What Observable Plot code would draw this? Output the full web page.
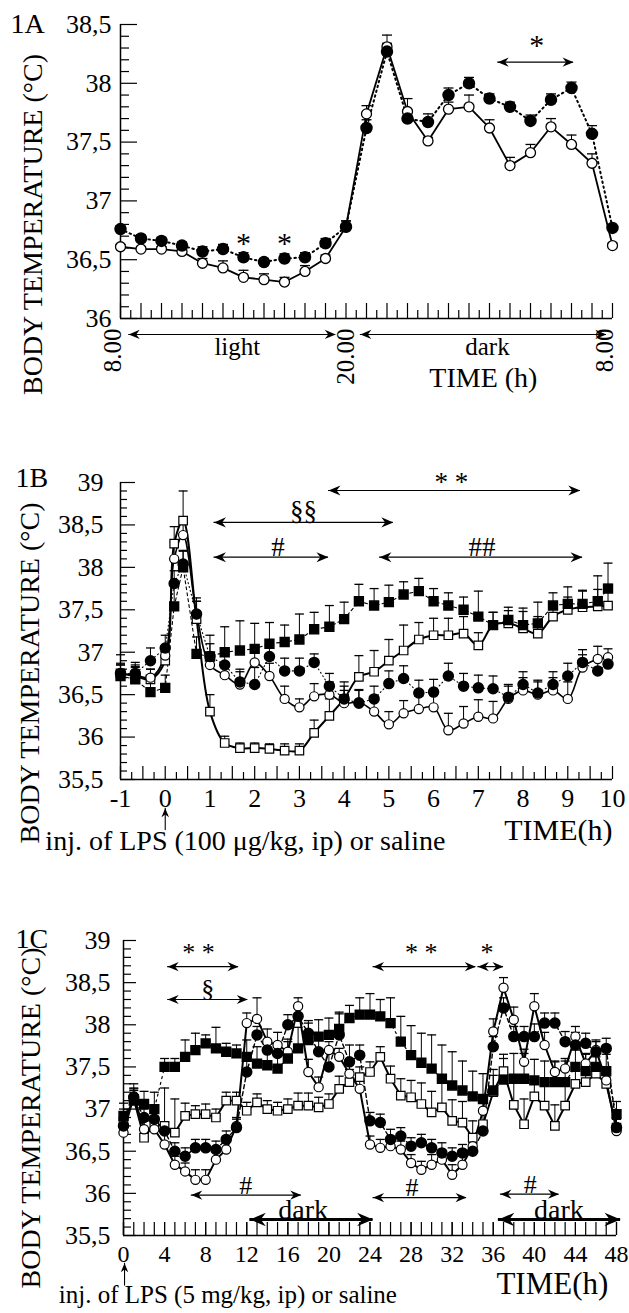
<!DOCTYPE html>
<html>
<head>
<meta charset="utf-8">
<script src="https://cdn.jsdelivr.net/npm/d3@7"></script>
<script src="https://cdn.jsdelivr.net/npm/@observablehq/plot@0.6"></script>
<style>
  html, body { margin: 0; padding: 0; background: #fff; }
  #page { position: relative; width: 629px; height: 1313px; overflow: hidden; background: #fff; }
  .panel { position: absolute; left: 0; width: 629px; }
</style>
</head>
<body>
<div id="page">
  <div class="panel" id="panelA" style="top:0px"></div>
  <div class="panel" id="panelB" style="top:440px"></div>
  <div class="panel" id="panelC" style="top:880px"></div>
</div>
<script>
// ================= DATA =================
// ---- Panel 1A (hour index from 8.00 to 8.00 next day)
const hoursA = [0,1,2,3,4,5,6,7,8,9,10,11,12,13,14,15,16,17,18,19,20,21,22,23,24];
const openA   = [36.61,36.59,36.59,36.57,36.47,36.43,36.35,36.33,36.31,36.40,36.51,36.78,37.74,38.31,37.76,37.51,37.78,37.80,37.62,37.30,37.41,37.63,37.48,37.32,36.62];
const openAErr= [0.02,0.02,0.02,0.02,0.04,0.06,0.06,0.05,0.04,0.05,0.03,0.05,0.07,0.10,0.11,0.03,0.06,0.10,0.07,0.07,0.07,0.07,0.08,0.08,0.02];
const filledA = [36.76,36.68,36.66,36.62,36.57,36.59,36.52,36.48,36.51,36.52,36.64,36.78,37.62,38.27,37.70,37.67,37.90,38.00,37.87,37.80,37.68,37.86,37.96,37.57,36.77];
const filledAErr=[0.03,0.03,0.03,0.03,0.04,0.04,0.04,0.03,0.04,0.04,0.04,0.05,0.07,0.07,0.07,0.07,0.06,0.05,0.04,0.04,0.05,0.05,0.05,0.07,0.02];
const yTicksA = [36, 36.5, 37, 37.5, 38, 38.5];
const timeLabelsA = [{x: 0, label: "8.00"}, {x: 11.4, label: "20.00"}, {x: 24, label: "8.00"}];
const phasesA = [{label: "light", x1: 0.4, x2: 10.5, tx: 5.7, y: 35.864}, {label: "dark", x1: 11.7, x2: 23.7, tx: 17.9, y: 35.864}];
const starsA = [{x: 6, y: 36.64, label: "*"}, {x: 8, y: 36.64, label: "*"}, {x: 20.3, y: 38.32, label: "*"}];
const sigArrowsA = [{x1: 18.4, x2: 22.1, y: 38.18}];

// ---- Panel 1B (hours relative to injection)
const tB = [-1,-0.67,-0.33,0,0.2,0.4,0.7,1,1.33,1.67,2,2.33,2.67,3,3.33,3.67,4,4.33,4.67,5,5.33,5.67,6,6.33,6.67,7,7.33,7.67,8,8.33,8.67,9,9.33,9.67,9.9];
const openSqB    = [36.75,36.72,36.68,36.9,38.28,38.55,37.39,36.3,35.93,35.87,35.87,35.86,35.84,35.84,36.05,36.25,36.45,36.71,36.77,36.9,37.02,37.15,37.2,37.2,37.22,37.08,37.32,37.34,37.28,37.22,37.42,37.5,37.53,37.54,37.55];
const openSqBErr = [0.12,0.1,0.12,0.1,0.2,0.35,0.25,0.2,0.08,0.06,0.06,0.06,0.08,0.08,0.15,0.2,0.2,0.25,0.25,0.25,0.3,0.2,0.2,0.2,0.2,0.15,0.15,0.15,0.2,0.2,0.15,0.15,0.2,0.2,0.25];
const filledSqB  = [36.72,36.68,36.53,36.58,37.54,38.0,36.98,36.95,37.0,37.02,37.04,37.1,37.12,37.15,37.27,37.3,37.39,37.6,37.55,37.59,37.68,37.72,37.6,37.55,37.5,37.42,37.32,37.38,37.32,37.34,37.55,37.57,37.57,37.6,37.75];
const filledSqBErr=[0.25,0.2,0.15,0.15,0.25,0.2,0.2,0.25,0.3,0.35,0.3,0.25,0.2,0.3,0.2,0.25,0.2,0.2,0.2,0.2,0.15,0.15,0.15,0.15,0.15,0.3,0.15,0.15,0.2,0.25,0.15,0.2,0.15,0.3,0.3];
const openCircB  = [36.75,36.73,36.7,36.96,38.1,38.38,37.45,36.85,36.73,36.62,36.88,36.72,36.45,36.35,36.48,36.5,36.4,36.41,36.3,36.15,36.28,36.33,36.35,36.08,36.16,36.24,36.22,36.45,36.55,36.5,36.55,36.45,36.82,36.92,36.94];
const openCircBErr=[0.1,0.1,0.1,0.1,0.2,0.15,0.15,0.15,0.15,0.15,0.15,0.15,0.15,0.1,0.15,0.15,0.15,0.15,0.15,0.15,0.15,0.15,0.15,0.2,0.2,0.2,0.2,0.15,0.15,0.15,0.15,0.2,0.15,0.15,0.1];
const filledCircB= [36.75,36.75,36.9,37.05,37.81,38.04,37.45,36.95,36.85,36.65,36.62,36.95,36.78,36.78,36.88,36.6,36.45,36.4,36.45,36.63,36.69,36.52,36.53,36.72,36.6,36.58,36.57,36.47,36.62,36.52,36.62,36.72,36.88,36.78,36.86];
const filledCircBErr=[0.1,0.1,0.15,0.15,0.15,0.15,0.15,0.15,0.15,0.15,0.2,0.15,0.15,0.15,0.1,0.15,0.15,0.15,0.15,0.15,0.15,0.15,0.15,0.15,0.15,0.15,0.15,0.15,0.15,0.15,0.15,0.15,0.15,0.15,0.1];
const xLabelsB = [-1,0,1,2,3,4,5,6,7,8,9,10];
const yTicksB = [35.5, 36, 36.5, 37, 37.5, 38, 38.5, 39];
const sigB = [
  {label: "* *", x1: 3.65, x2: 9.28, tx: 6.4, y: 38.906, ty: 39.0},
  {label: "§§", x1: 1.09, x2: 5.1, tx: 3.09, y: 38.53, ty: 38.66},
  {label: "#", x1: 1.09, x2: 3.65, tx: 2.52, y: 38.12, ty: 38.24},
  {label: "##", x1: 4.79, x2: 9.33, tx: 7.08, y: 38.12, ty: 38.24}
];
const injB = {x: 0, y1: 34.9, y2: 35.16, label: "inj. of LPS (100 μg/kg, ip) or saline", tx: -2.68, ty: 34.78};

// ---- Panel 1C (hours after injection)
const tC = [0,1,2,3,4,5,6,7,8,9,10,11,12,13,14,15,16,17,18,19,20,21,22,23,24,25,26,27,28,29,30,31,32,33,34,35,36,37,38,39,40,41,42,43,44,45,46,47,48];
const openCircC  = [36.72,37.15,36.76,36.76,36.58,36.34,36.26,36.16,36.16,36.40,36.52,36.80,38.02,38.07,37.80,37.76,37.68,38.22,37.44,37.26,37.70,37.62,37.42,37.24,36.58,36.54,36.56,36.52,36.36,36.28,36.34,36.40,36.22,36.34,36.56,36.98,37.92,38.44,38.06,37.56,38.22,37.76,37.44,37.48,37.86,37.54,37.70,37.34,36.74];
const openCircCErr=[0.1,0.1,0.1,0.1,0.15,0.1,0.1,0.12,0.12,0.1,0.1,0.1,0.12,0.25,0.15,0.15,0.15,0.1,0.15,0.12,0.1,0.1,0.12,0.12,0.1,0.1,0.1,0.1,0.1,0.1,0.12,0.1,0.12,0.1,0.1,0.1,0.15,0.12,0.15,0.15,0.15,0.15,0.12,0.12,0.12,0.12,0.12,0.12,0.08];
const filledCircC= [36.80,37.14,36.90,36.88,36.74,36.50,36.44,36.54,36.54,36.52,36.64,36.78,37.44,37.88,37.70,37.66,38.00,38.10,37.90,37.68,37.50,37.88,37.56,37.64,36.86,36.84,36.64,36.68,36.56,36.60,36.54,36.48,36.44,36.48,36.50,36.74,37.74,38.20,37.86,37.86,37.86,38.02,38.02,37.80,37.76,37.78,37.68,37.72,36.78];
const filledCircCErr=[0.1,0.1,0.1,0.1,0.1,0.1,0.1,0.1,0.1,0.1,0.1,0.1,0.15,0.1,0.12,0.12,0.12,0.1,0.15,0.15,0.2,0.25,0.2,0.12,0.1,0.1,0.12,0.1,0.1,0.1,0.1,0.12,0.1,0.1,0.1,0.1,0.12,0.12,0.12,0.12,0.15,0.12,0.12,0.12,0.15,0.12,0.12,0.12,0.1];
const openSqC    = [36.85,37.12,36.66,36.82,36.80,36.72,36.92,36.94,36.94,36.90,37.10,37.10,36.98,37.08,37.00,36.98,37.00,37.04,37.04,37.02,37.06,37.24,37.32,37.38,37.44,37.62,37.36,37.16,37.14,37.06,36.96,37.02,36.86,36.84,36.66,36.82,37.20,37.45,37.05,36.82,37.15,37.04,36.80,37.04,37.30,37.32,37.42,37.30,36.78];
const openSqCErr = [0.15,0.1,0.2,0.15,0.45,0.4,0.15,0.1,0.12,0.1,0.1,0.1,0.1,0.1,0.1,0.1,0.12,0.15,0.15,0.12,0.12,0.15,0.15,0.12,0.12,0.12,0.15,0.2,0.2,0.25,0.25,0.3,0.25,0.25,0.2,0.15,0.2,0.15,0.3,0.3,0.2,0.25,0.25,0.25,0.2,0.2,0.2,0.15,0.1];
const filledSqC  = [36.92,37.10,37.06,37.0,37.5,37.5,37.62,37.70,37.78,37.72,37.68,37.66,37.62,37.54,37.52,37.48,37.6,37.72,37.82,37.86,37.88,37.95,38.08,38.12,38.12,38.1,38.02,37.8,37.64,37.55,37.48,37.36,37.28,37.22,37.15,37.12,37.22,37.35,37.36,37.36,37.34,37.32,37.32,37.32,37.5,37.45,37.5,37.45,36.94];
const filledSqCErr=[0.15,0.2,0.15,0.2,0.1,0.1,0.2,0.2,0.1,0.25,0.1,0.1,0.2,0.2,0.25,0.25,0.2,0.25,0.2,0.2,0.2,0.2,0.15,0.2,0.25,0.2,0.3,0.3,0.35,0.35,0.4,0.4,0.4,0.35,0.3,0.3,0.25,0.3,0.3,0.3,0.25,0.25,0.25,0.25,0.2,0.2,0.2,0.2,0.15];
const xLabelsC = [0,4,8,12,16,20,24,28,32,36,40,44,48];
const yTicksC = [35.5, 36, 36.5, 37, 37.5, 38, 38.5, 39];
const sigC = [
  {label: "* *", x1: 4.3, x2: 11.2, tx: 7.3, y: 38.69, ty: 38.86},
  {label: "§", x1: 4.3, x2: 12.1, tx: 8.2, y: 38.30, ty: 38.43},
  {label: "* *", x1: 24.3, x2: 34.3, tx: 29.0, y: 38.69, ty: 38.86},
  {label: "*", x1: 34.5, x2: 37.0, tx: 35.4, y: 38.69, ty: 38.86},
  {label: "#", x1: 6.6, x2: 17.3, tx: 11.9, y: 35.98, ty: 36.09},
  {label: "#", x1: 24.3, x2: 33.4, tx: 28.1, y: 35.95, ty: 36.07},
  {label: "#", x1: 36.7, x2: 42.4, tx: 39.6, y: 35.99, ty: 36.1}
];
const darkC = [{label: "dark", x1: 12.3, x2: 24.3, tx: 17.5, y: 35.69, ty: 35.80}, {label: "dark", x1: 36.5, x2: 48.4, tx: 42.4, y: 35.69, ty: 35.80}];
const injC = {x: 0.1, y1: 34.9, y2: 35.17, label: "inj. of LPS (5 mg/kg, ip) or saline", tx: -6.3, ty: 34.8};

const yTitle = "BODY TEMPERATURE (°C)";

// ================= HELPERS =================
const SERIF = '"Liberation Serif", "DejaVu Serif", serif';
const fmtComma = d => String(d).replace(".", ",");
const capSymbol = {draw(ctx, size) { const w = Math.sqrt(size / Math.PI); ctx.moveTo(-w, 0); ctx.lineTo(w, 0); }};
// filled barbed arrowhead; tip at the anchor point, pointing right (rotate to orient)
const headSymbol = {draw(ctx, size) {
  const r = Math.sqrt(size / Math.PI);
  ctx.moveTo(0, 0); ctx.lineTo(-r, -r * 0.42); ctx.lineTo(-r * 0.68, 0); ctx.lineTo(-r, r * 0.42); ctx.closePath();
}};
const rows = (t, v, e) => t.map((x, i) => ({x, y: v[i], e: e[i]})).filter(d => d.y != null);
const minorOf = (lo, hi, step, majorStep) => d3.range(Math.round((hi - lo) / step) + 1).map(i => +(lo + i * step).toFixed(3)).filter(v => Math.abs(v / majorStep - Math.round(v / majorStep)) > 1e-6);

function errMarks(d, capR) {
  return [
    Plot.ruleX(d, {x: "x", y1: "y", y2: r => r.y + r.e, stroke: "black", strokeWidth: 1}),
    Plot.dot(d, {x: "x", y: r => r.y + r.e, symbol: capSymbol, r: capR, fill: "none", stroke: "black", strokeWidth: 1.3})
  ];
}
function dblArrows(list, opts = {}) {
  const sw = opts.sw || 1.2, head = opts.head || 10;
  const ends = list.flatMap(a => [{x: a.x1, y: a.y, rot: 180}, {x: a.x2, y: a.y, rot: 0}]);
  return [
    Plot.ruleY(list, {y: "y", x1: "x1", x2: "x2", stroke: "black", strokeWidth: sw}),
    Plot.dot(ends, {x: "x", y: "y", rotate: "rot", symbol: headSymbol, r: head, fill: "black", stroke: "none"})
  ];
}
function upArrow(a, head) {
  return [
    Plot.ruleX([a], {x: "x", y1: "y1", y2: "y2", stroke: "black", strokeWidth: 1.1}),
    Plot.dot([a], {x: "x", y: "y2", rotate: -90, symbol: headSymbol, r: head, fill: "black", stroke: "none"})
  ];
}
function yAxes(major, minor, majorLen, minorLen, pad, fs) {
  return [
    Plot.axisY(minor, {tickSize: -minorLen, tickFormat: () => "", label: null, strokeWidth: 1.2}),
    Plot.axisY(major, {tickSize: -majorLen, tickPadding: majorLen + pad, tickFormat: fmtComma, label: null, fontSize: fs, strokeWidth: 1.2})
  ];
}
function yTitleMark(dx, dy) {
  return Plot.text([yTitle], {frameAnchor: "left", text: d => d, dx, dy, rotate: -90, textAnchor: "middle", lineAnchor: "middle", fontSize: 28});
}
function panelLabel(s, dx, dy) {
  return Plot.text([s], {frameAnchor: "top-left", text: d => d, dx, dy, textAnchor: "start", lineAnchor: "middle", fontSize: 28});
}

// ================= PANEL 1A =================
{
  const dOpen = rows(hoursA, openA, openAErr);
  const dFill = rows(hoursA, filledA, filledAErr);
  const plot = Plot.plot({
    width: 629, height: 400,
    marginLeft: 120, marginRight: 17, marginTop: 24, marginBottom: 82,
    style: {fontFamily: SERIF, fontSize: "26px", background: "white", color: "black"},
    x: {domain: [hoursA[0], hoursA[hoursA.length - 1]]},
    y: {domain: [yTicksA[0], yTicksA[yTicksA.length - 1]]},
    marks: [
      Plot.ruleX([hoursA[0]], {stroke: "black", strokeWidth: 1.5}),
      Plot.ruleY([yTicksA[0]], {stroke: "black", strokeWidth: 1.5}),
      ...yAxes(yTicksA, minorOf(36, 38.5, 0.1, 0.5), 17, 9, 9, 26),
      Plot.axisX(minorOf(0, 24, 0.5, 1), {tickSize: -8, tickFormat: () => "", label: null, strokeWidth: 1.2}),
      Plot.axisX(hoursA, {tickSize: -15, tickFormat: () => "", label: null, strokeWidth: 1.2}),
      Plot.line(dFill, {x: "x", y: "y", stroke: "black", strokeWidth: 2, strokeDasharray: "1.5,3.5"}),
      Plot.line(dOpen, {x: "x", y: "y", stroke: "black", strokeWidth: 1.8}),
      ...errMarks(dOpen, 5), ...errMarks(dFill, 5),
      Plot.dot(dOpen, {x: "x", y: "y", r: 5, fill: "white", stroke: "black", strokeWidth: 1.3}),
      Plot.dot(dFill, {x: "x", y: "y", r: 5.5, fill: "black", stroke: "black"}),
      // annotations
      Plot.text(starsA, {x: "x", y: "y", text: "label", fontSize: 30}),
      ...dblArrows(sigArrowsA, {sw: 1.2, head: 11}),
      ...dblArrows(phasesA, {sw: 1.2, head: 11}),
      Plot.text(phasesA, {x: "tx", y: "y", text: "label", fontSize: 25, dy: 13}),
      Plot.text(timeLabelsA, {x: "x", text: "label", frameAnchor: "bottom", dy: 10, rotate: -90, textAnchor: "end", fontSize: 25}),
      Plot.text(["TIME (h)"], {x: () => 17.7, text: d => d, frameAnchor: "bottom", dy: 68, fontSize: 28}),
      panelLabel("1A", -110, 0),
      yTitleMark(-87, 53)
    ]
  });
  document.getElementById("panelA").appendChild(plot);
}

// ================= PANEL 1B =================
{
  const dOS = rows(tB, openSqB, openSqBErr);
  const dFS = rows(tB, filledSqB, filledSqBErr);
  const dOC = rows(tB, openCircB, openCircBErr);
  const dFC = rows(tB, filledCircB, filledCircBErr);
  const plot = Plot.plot({
    width: 629, height: 420,
    marginLeft: 120, marginRight: 17, marginTop: 42, marginBottom: 81,
    style: {fontFamily: SERIF, fontSize: "26px", background: "white", color: "black"},
    x: {domain: [xLabelsB[0], xLabelsB[xLabelsB.length - 1]]},
    y: {domain: [yTicksB[0], yTicksB[yTicksB.length - 1]]},
    marks: [
      Plot.ruleX([xLabelsB[0]], {stroke: "black", strokeWidth: 1.5}),
      Plot.ruleY([yTicksB[0]], {stroke: "black", strokeWidth: 1.5}),
      ...yAxes(yTicksB, minorOf(35.5, 39, 0.1, 0.5), 15, 7, 17, 26),
      Plot.axisX(minorOf(-1, 10, 0.25, 0.5), {tickSize: -7, tickFormat: () => "", label: null, strokeWidth: 1.2}),
      Plot.axisX(minorOf(-1, 10, 0.5, 1), {tickSize: -13, tickFormat: () => "", label: null, strokeWidth: 1.2}),
      Plot.axisX(xLabelsB, {tickSize: -13, tickPadding: 13 + 9, tickFormat: d => String(d), label: null, fontSize: 26, strokeWidth: 1.2}),
      Plot.line(dFS, {x: "x", y: "y", stroke: "black", strokeWidth: 1.1, strokeDasharray: "3,3"}),
      Plot.line(dFC, {x: "x", y: "y", stroke: "black", strokeWidth: 1.1, strokeDasharray: "1,3"}),
      Plot.line(dOS, {x: "x", y: "y", stroke: "black", strokeWidth: 2, curve: "catmull-rom"}),
      Plot.line(dOC, {x: "x", y: "y", stroke: "black", strokeWidth: 1.6, curve: "catmull-rom"}),
      ...errMarks(dOS, 4.5), ...errMarks(dFS, 4.5), ...errMarks(dOC, 4.5), ...errMarks(dFC, 4.5),
      Plot.dot(dOS, {x: "x", y: "y", symbol: "square", r: 4.8, fill: "white", stroke: "black", strokeWidth: 1.2}),
      Plot.dot(dOC, {x: "x", y: "y", r: 4.6, fill: "white", stroke: "black", strokeWidth: 1.2}),
      Plot.dot(dFS, {x: "x", y: "y", symbol: "square", r: 5, fill: "black", stroke: "black"}),
      Plot.dot(dFC, {x: "x", y: "y", r: 5, fill: "black", stroke: "black"}),
      // annotations
      ...dblArrows(sigB, {sw: 1.2, head: 12}),
      Plot.text(sigB, {x: "tx", y: "ty", text: "label", fontSize: 27}),
      ...upArrow(injB, 9),
      Plot.text([injB], {x: "tx", y: "ty", text: "label", textAnchor: "start", fontSize: 28}),
      Plot.text(["TIME(h)"], {x: () => xLabelsB[xLabelsB.length - 1], text: d => d, frameAnchor: "bottom", dy: 60, textAnchor: "end", fontSize: 30}),
      panelLabel("1B", -105, -4),
      yTitleMark(-90, 42)
    ]
  });
  document.getElementById("panelB").appendChild(plot);
}

// ================= PANEL 1C =================
{
  const dOS = rows(tC, openSqC, openSqCErr);
  const dFS = rows(tC, filledSqC, filledSqCErr);
  const dOC = rows(tC, openCircC, openCircCErr);
  const dFC = rows(tC, filledCircC, filledCircCErr);
  const plot = Plot.plot({
    width: 629, height: 433,
    marginLeft: 123, marginRight: 13, marginTop: 60, marginBottom: 78,
    style: {fontFamily: SERIF, fontSize: "26px", background: "white", color: "black"},
    x: {domain: [xLabelsC[0], xLabelsC[xLabelsC.length - 1]]},
    y: {domain: [yTicksC[0], yTicksC[yTicksC.length - 1]]},
    marks: [
      Plot.ruleX([xLabelsC[0]], {stroke: "black", strokeWidth: 1.5}),
      Plot.ruleY([yTicksC[0]], {stroke: "black", strokeWidth: 1.5}),
      ...yAxes(yTicksC, minorOf(35.5, 39, 0.1, 0.5), 13, 8, 13, 26),
      Plot.axisX(tC, {tickSize: -13, tickFormat: () => "", label: null, strokeWidth: 1.2}),
      Plot.axisX(xLabelsC, {tickSize: -13, tickPadding: 13 + 9, tickFormat: d => String(d), label: null, fontSize: 24, strokeWidth: 1.2}),
      Plot.line(dFS, {x: "x", y: "y", stroke: "black", strokeWidth: 1.2, strokeDasharray: "2,4"}),
      Plot.line(dFC, {x: "x", y: "y", stroke: "black", strokeWidth: 1.4, strokeDasharray: "4,3"}),
      Plot.line(dOS, {x: "x", y: "y", stroke: "black", strokeWidth: 2}),
      Plot.line(dOC, {x: "x", y: "y", stroke: "black", strokeWidth: 2}),
      ...errMarks(dOS, 4.5), ...errMarks(dFS, 4.5), ...errMarks(dOC, 4.5), ...errMarks(dFC, 4.5),
      Plot.dot(dOS, {x: "x", y: "y", symbol: "square", r: 4.8, fill: "white", stroke: "black", strokeWidth: 1.2}),
      Plot.dot(dOC, {x: "x", y: "y", r: 4.6, fill: "white", stroke: "black", strokeWidth: 1.2}),
      Plot.dot(dFS, {x: "x", y: "y", symbol: "square", r: 5, fill: "black", stroke: "black"}),
      Plot.dot(dFC, {x: "x", y: "y", r: 5, fill: "black", stroke: "black"}),
      // annotations
      ...dblArrows(sigC, {sw: 1.2, head: 11}),
      Plot.text(sigC, {x: "tx", y: "ty", text: "label", fontSize: 26}),
      ...dblArrows(darkC, {sw: 3, head: 16}),
      Plot.text(darkC, {x: "tx", y: "ty", text: "label", fontSize: 28}),
      ...upArrow(injC, 9),
      Plot.text([injC], {x: "tx", y: "ty", text: "label", textAnchor: "start", fontSize: 25}),
      Plot.text(["TIME(h)"], {x: () => 47.2, text: d => d, frameAnchor: "bottom", dy: 58, textAnchor: "end", fontSize: 31}),
      panelLabel("1C", -108, -1),
      yTitleMark(-92, 30)
    ]
  });
  document.getElementById("panelC").appendChild(plot);
}
</script>
</body>
</html>
